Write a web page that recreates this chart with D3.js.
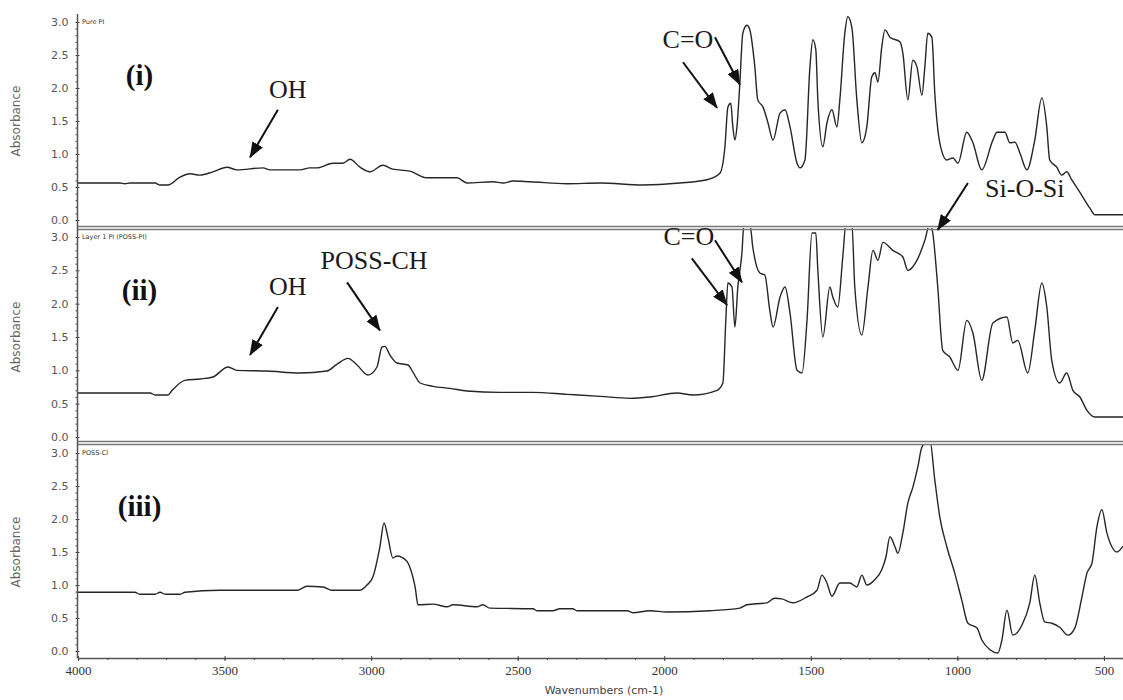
<!DOCTYPE html>
<html>
<head>
<meta charset="utf-8">
<script src="https://cdn.jsdelivr.net/npm/d3@7"></script>
<style>
body { margin: 0; background: #fff; }
svg { display: block; }
.ytick text { font-family: "DejaVu Sans", sans-serif; font-size: 11px; fill: #555; }
.xtick text { font-family: "Liberation Serif", serif; font-size: 13px; fill: #333; }
.tick line { stroke: #444; }
</style>
</head>
<body>
<div id="chart-area"></div>
<script>

// Spectra (wavenumber in cm-1, absorbance)
var pureWave = [4000,3857,3840,3823,3737,3720,3693,3652,3618,3584,3540,3492,3458,3369,3345,3243,3209,3185,3130,3096,
    3072,3038,3004,2960,2926,2868,2810,2707,2673,2584,2550,2516,2458,2332,2219,2073,1947,1855,1810,1793,
    1783,1773,1766,1759,1752,1742,1732,1718,1708,1691,1681,1663,1646,1629,1605,1588,1571,1547,1537,1520,
    1503,1493,1483,1476,1459,1445,1428,1411,1401,1384,1374,1360,1343,1326,1309,1292,1281,1271,1258,1247,
    1230,1196,1186,1169,1152,1138,1121,1111,1101,1087,1077,1060,1036,1015,998,968,947,917,879,865,
    838,821,804,787,763,736,712,695,685,661,644,627,610,582,548,531,435];
var pureAbs = [0.56,0.56,0.55,0.56,0.56,0.53,0.53,0.65,0.70,0.68,0.73,0.80,0.76,0.79,0.76,0.76,0.79,0.79,0.86,0.86,
    0.92,0.80,0.73,0.83,0.77,0.74,0.64,0.64,0.56,0.58,0.56,0.59,0.58,0.55,0.56,0.53,0.56,0.61,0.71,1.11,
    1.71,1.77,1.41,1.21,1.41,2.08,2.83,2.95,2.88,2.32,1.82,1.71,1.47,1.21,1.62,1.67,1.41,0.86,0.79,0.91,
    2.32,2.73,2.58,1.82,1.11,1.47,1.67,1.41,1.82,2.83,3.08,2.92,1.82,1.17,1.41,2.17,2.23,2.09,2.62,2.88,
    2.77,2.70,2.53,1.82,2.42,2.32,1.89,2.32,2.83,2.77,1.92,1.17,0.91,0.94,0.86,1.33,1.17,0.76,1.21,1.33,
    1.33,1.17,1.18,1.02,0.76,1.21,1.85,1.41,0.91,0.80,0.68,0.73,0.61,0.42,0.18,0.08,0.08];

var layerWave = [4000,3754,3737,3693,3679,3635,3584,3540,3488,3458,3355,3243,3151,3117,3079,3048,3011,2980,2963,2953,
    2936,2912,2874,2857,2833,2789,2731,2673,2561,2448,2332,2219,2117,2049,1957,1902,1820,1800,1790,1783,
    1769,1759,1749,1735,1728,1708,1698,1674,1657,1640,1629,1605,1588,1571,1547,1530,1513,1496,1483,1476,
    1459,1435,1425,1408,1391,1380,1360,1350,1326,1305,1288,1271,1254,1220,1186,1169,1138,1111,1094,1084,
    1067,1050,1026,998,968,947,917,879,831,811,794,760,736,712,695,678,651,627,606,582,
    558,531,435];
var layerAbs = [0.66,0.66,0.63,0.63,0.70,0.85,0.87,0.90,1.05,1.00,0.99,0.96,0.99,1.09,1.18,1.08,0.93,1.05,1.35,1.36,
    1.23,1.11,1.08,0.97,0.81,0.76,0.73,0.69,0.67,0.67,0.64,0.61,0.58,0.60,0.66,0.63,0.70,0.81,1.75,2.31,
    2.25,1.65,2.25,2.76,3.20,3.20,2.85,2.46,2.43,1.90,1.65,2.10,2.25,1.86,1.00,0.96,1.75,3.06,3.06,2.50,
    1.50,2.25,2.10,1.95,2.70,3.20,3.20,2.25,1.53,2.25,2.80,2.65,2.92,2.80,2.70,2.50,2.65,2.95,3.20,3.06,
    2.25,1.30,1.20,1.00,1.75,1.56,0.85,1.71,1.80,1.41,1.45,0.96,1.60,2.31,1.95,1.15,0.81,0.96,0.70,0.60,
    0.40,0.30,0.30];

var clWave = [4000,3806,3789,3737,3720,3703,3652,3635,3516,3253,3219,3164,3134,3038,3014,2994,2970,2956,2943,2926,
    2912,2878,2868,2850,2840,2789,2741,2721,2639,2619,2595,2448,2434,2380,2356,2312,2298,2127,2107,2049,
    1991,1844,1742,1718,1650,1623,1599,1561,1513,1479,1462,1445,1428,1401,1367,1343,1326,1309,1282,1258,
    1244,1230,1213,1203,1186,1169,1152,1135,1121,1094,1077,1060,1036,1009,985,964,933,917,889,862,
    848,831,811,780,753,736,719,702,678,651,623,599,575,558,541,524,507,490,473,456,
    435];
var clAbs = [0.89,0.89,0.86,0.86,0.89,0.86,0.86,0.89,0.92,0.92,0.98,0.97,0.92,0.92,1.00,1.12,1.58,1.94,1.73,1.41,
    1.44,1.36,1.27,0.97,0.70,0.71,0.67,0.70,0.67,0.70,0.65,0.64,0.61,0.61,0.64,0.64,0.61,0.61,0.58,0.61,
    0.59,0.61,0.65,0.70,0.73,0.80,0.79,0.73,0.82,0.92,1.15,1.03,0.83,1.03,1.03,0.97,1.15,1.00,1.08,1.23,
    1.42,1.73,1.58,1.48,1.79,2.24,2.48,2.79,3.09,3.20,2.59,2.03,1.58,1.18,0.77,0.42,0.35,0.17,0.02,-0.03,
    0.17,0.62,0.24,0.39,0.73,1.15,0.73,0.44,0.42,0.36,0.24,0.35,0.82,1.18,1.33,1.88,2.14,1.79,1.58,1.50,
    1.59];

var xTicks = [4000, 3500, 3000, 2500, 2000, 1500, 1000, 500];
var yTicks = [0, 0.5, 1.0, 1.5, 2.0, 2.5, 3.0];
var panelNames = ["Pure PI", "Layer 1 PI (POSS-PI)", "POSS-Cl"];
var panelTags = ["(i)", "(ii)", "(iii)"];

// annotations, in data units of the panel they sit in
var notes = [
    {p: 0, text: "OH", w: 3284, a: 1.85},
    {p: 0, text: "C=O", w: 1919, a: 2.61},
    {p: 0, text: "Si-O-Si", w: 770, a: 0.35},
    {p: 1, text: "OH", w: 3284, a: 2.13},
    {p: 1, text: "POSS-CH", w: 2990, a: 2.52},
    {p: 1, text: "C=O", w: 1916, a: 2.88}
];
var arrows = [
    {p: 0, w1: 3318, a1: 1.67, w2: 3413, a2: 0.95},
    {p: 0, w1: 1936, a1: 2.39, w2: 1820, a2: 1.70},
    {p: 0, w1: 1827, a1: 2.77, w2: 1742, a2: 2.05},
    {p: 0, w1: 964, a1: 0.56, w2: 1067, a2: -0.15},
    {p: 1, w1: 3318, a1: 1.95, w2: 3413, a2: 1.23},
    {p: 1, w1: 3082, a1: 2.32, w2: 2970, a2: 1.60},
    {p: 1, w1: 1906, a1: 2.68, w2: 1786, a2: 1.98},
    {p: 1, w1: 1827, a1: 2.95, w2: 1735, a2: 2.32}
];


// SVG drawing area
var width = 1123, height = 700;
var axisX = 77.5, axisBottom = 658;

var svg = d3.select("#chart-area").append("svg")
    .attr("width", width)
    .attr("height", height);

var x = d3.scaleLinear()
    .domain([4000, 435])
    .range([78, width]);

// one absorbance scale per stacked panel
var panels = [
    {top: 14, bottom: 228, zero: 220, three: 22},
    {top: 228, bottom: 443, zero: 437, three: 237},
    {top: 444, bottom: axisBottom, zero: 651, three: 453}
];
var series = [[pureWave, pureAbs], [layerWave, layerAbs], [clWave, clAbs]];

panels.forEach(function(p) {
    p.y = d3.scaleLinear().domain([0, 3]).range([p.zero, p.three]);
});

var defs = svg.append("defs");
defs.append("marker")
    .attr("id", "head")
    .attr("viewBox", "0 0 16 12")
    .attr("refX", 15).attr("refY", 6)
    .attr("markerWidth", 16).attr("markerHeight", 12)
    .attr("markerUnits", "userSpaceOnUse")
    .attr("orient", "auto")
  .append("path")
    .attr("d", "M0,0 L16,6 L0,12 z")
    .attr("fill", "#111");

var line = d3.line().curve(d3.curveMonotoneX);

panels.forEach(function(p, i) {
    defs.append("clipPath").attr("id", "clip" + i)
      .append("rect")
        .attr("x", 78).attr("y", p.top)
        .attr("width", width - 78).attr("height", p.bottom - p.top);

    var g = svg.append("g");

    // y axis ticks (minor every 0.1)
    g.append("g")
        .attr("class", "ytick")
        .attr("transform", "translate(" + axisX + ",0)")
        .call(d3.axisLeft(p.y).tickValues(d3.range(0, 3.05, 0.1)).tickSize(2).tickFormat(""))
        .call(function(s) { s.select(".domain").remove(); });

    g.append("g")
        .attr("class", "ytick")
        .attr("transform", "translate(" + axisX + ",0)")
        .call(d3.axisLeft(p.y).tickValues(yTicks).tickSize(4).tickPadding(5).tickFormat(d3.format(".1f")))
        .call(function(s) {
            s.select(".domain").remove();
            s.selectAll("line").attr("x2", 2);
        });

    g.append("text")
        .attr("transform", "translate(20," + p.y(1.5) + ") rotate(-90)")
        .attr("text-anchor", "middle")
        .attr("font-family", "DejaVu Sans, sans-serif")
        .attr("font-size", 12)
        .attr("fill", "#666")
        .text("Absorbance");

    g.append("text")
        .attr("x", 82).attr("y", p.three + 2)
        .attr("font-family", "DejaVu Sans, sans-serif")
        .attr("font-size", 6.5)
        .attr("fill", "#333")
        .text(panelNames[i]);

    g.append("text")
        .attr("x", x(3790)).attr("y", p.y(2.05))
        .attr("text-anchor", "middle")
        .attr("font-family", "Liberation Serif, serif")
        .attr("font-weight", "bold")
        .attr("font-size", 29)
        .attr("fill", "#111")
        .text(panelTags[i]);

    var pts = d3.zip(series[i][0], series[i][1]).map(function(d) {
        return [x(d[0]), p.y(d[1])];
    });

    g.append("path")
        .attr("clip-path", "url(#clip" + i + ")")
        .attr("d", line(pts))
        .attr("fill", "none")
        .attr("stroke", "#262626")
        .attr("stroke-width", 1.4)
        .attr("stroke-linejoin", "round");
});

// grey double separators between the panels
[226.5, 229.5, 441.5, 444.5].forEach(function(yy) {
    svg.append("line")
        .attr("x1", axisX).attr("x2", width)
        .attr("y1", yy).attr("y2", yy)
        .attr("stroke", "#777").attr("stroke-width", 1.5);
});

// continuous y axis line
svg.append("line")
    .attr("x1", axisX).attr("x2", axisX)
    .attr("y1", 14).attr("y2", axisBottom)
    .attr("stroke", "#555").attr("stroke-width", 1.5);

// x axis
svg.append("g")
    .attr("class", "xtick")
    .attr("transform", "translate(0," + axisBottom + ")")
    .call(d3.axisBottom(x).tickValues(d3.range(4000, 430, -100)).tickSize(2).tickFormat(""))
    .call(function(s) { s.select(".domain").attr("stroke", "#555").attr("stroke-width", 1.5); });

svg.append("g")
    .attr("class", "xtick")
    .attr("transform", "translate(0," + axisBottom + ")")
    .call(d3.axisBottom(x).tickValues(xTicks).tickSize(3).tickPadding(5).tickFormat(d3.format("d")))
    .call(function(s) {
        s.select(".domain").remove();
        s.selectAll("line").attr("y1", -2);
    });

svg.append("text")
    .attr("x", 604).attr("y", 694)
    .attr("text-anchor", "middle")
    .attr("font-family", "DejaVu Sans, sans-serif")
    .attr("font-size", 11)
    .attr("fill", "#444")
    .text("Wavenumbers (cm-1)");

// annotations
notes.forEach(function(n) {
    svg.append("text")
        .attr("x", x(n.w)).attr("y", panels[n.p].y(n.a))
        .attr("text-anchor", "middle")
        .attr("font-family", "Liberation Serif, serif")
        .attr("font-size", 26)
        .attr("fill", "#1a1a1a")
        .text(n.text);
});

arrows.forEach(function(a) {
    var y = panels[a.p].y;
    svg.append("line")
        .attr("x1", x(a.w1)).attr("y1", y(a.a1))
        .attr("x2", x(a.w2)).attr("y2", y(a.a2))
        .attr("stroke", "#111")
        .attr("stroke-width", 2)
        .attr("marker-end", "url(#head)");
});

</script>
</body>
</html>
